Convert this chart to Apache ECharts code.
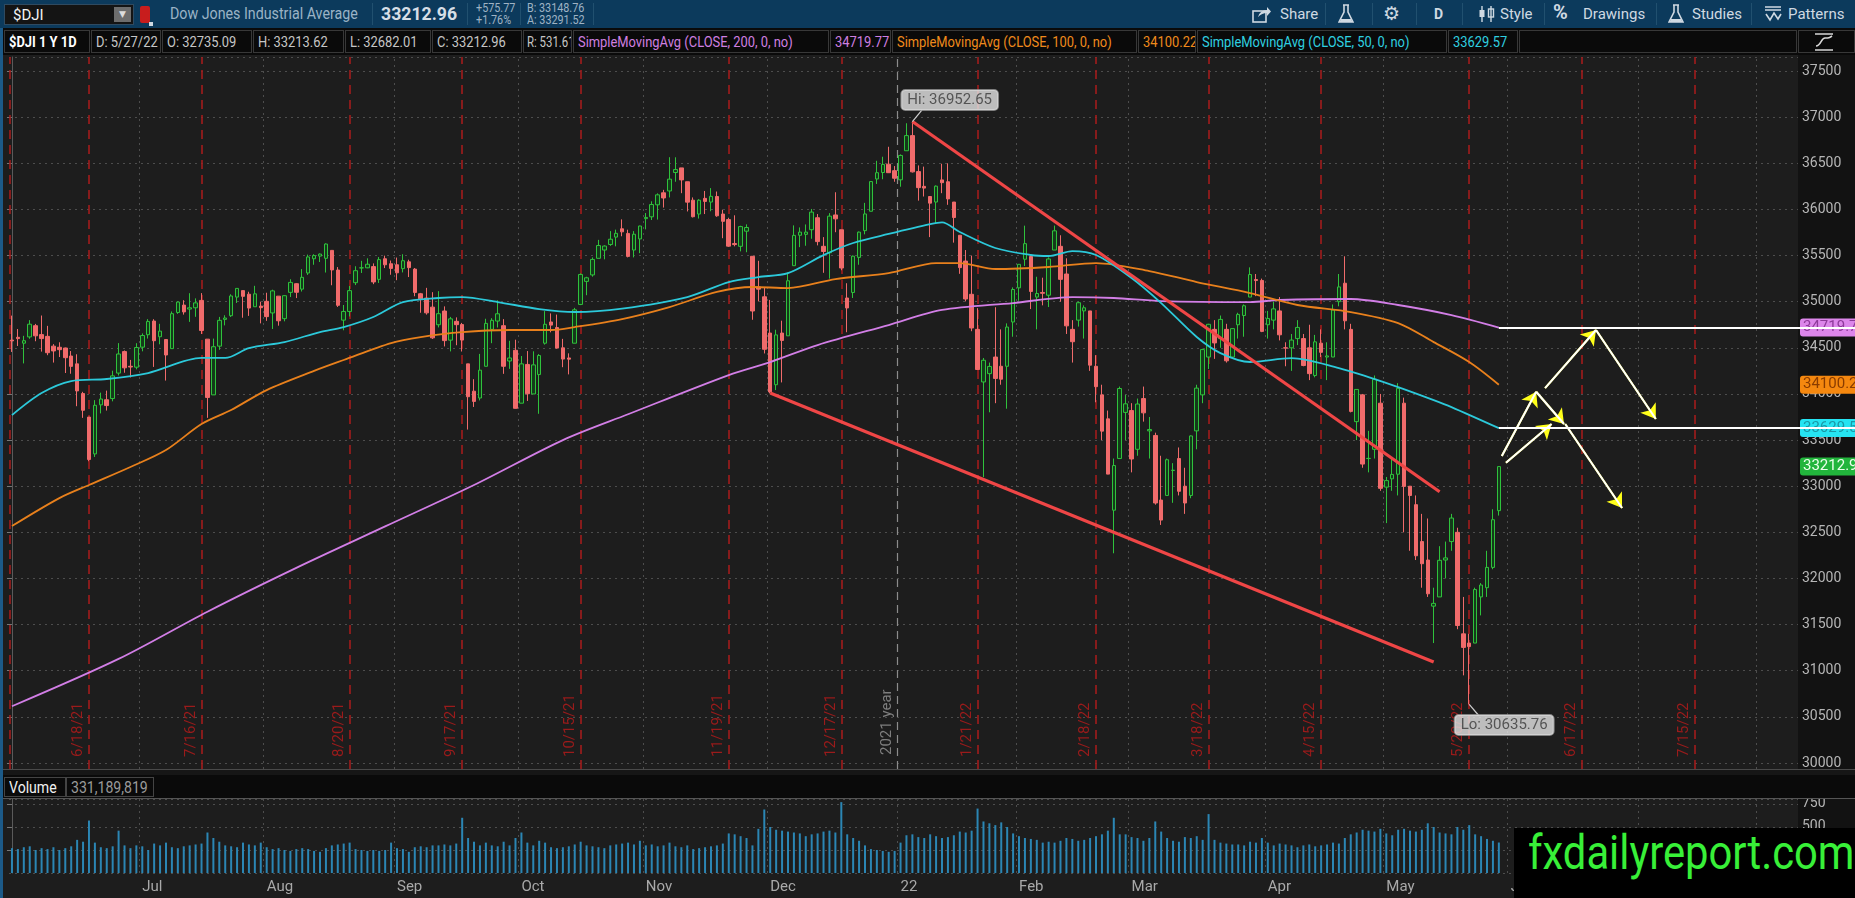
<!DOCTYPE html>
<html><head><meta charset="utf-8">
<script src="https://cdn.jsdelivr.net/npm/echarts@6/dist/echarts.min.js"></script>
<style>
html,body{margin:0;padding:0;background:#1d1d1d;width:1855px;height:898px;overflow:hidden;font-family:Roboto,"DejaVu Sans",sans-serif;}
.abs{position:absolute;}
.sx{display:inline-block;transform-origin:0 50%;white-space:nowrap;}
#top{position:absolute;left:0;top:0;width:1855px;height:28px;background:#0c3a5c;z-index:5;}
#top .t{position:absolute;white-space:nowrap;}
#top .sep{position:absolute;top:3px;width:1px;height:22px;background:#21506f;}
#top .sm{font-size:12px;color:#9fb3c4;line-height:13px;}
#top .btn{position:absolute;top:4px;font-size:15px;color:#cfd9e2;line-height:20px;white-space:nowrap;}
#row2{position:absolute;left:0;top:28px;width:1855px;height:27px;background:#0a0a0a;z-index:5;}
#row2 .c{position:absolute;top:2px;height:23px;line-height:22px;border:1px solid #383838;padding-left:4px;box-sizing:border-box;font-size:15px;color:#c6c6c6;white-space:nowrap;overflow:hidden;}
#row2 .c span{display:inline-block;transform:scaleX(.86);transform-origin:0 50%;}
#axbg{position:absolute;left:1798px;top:55px;width:57px;height:843px;background:#121212;z-index:0;}
#chart{position:absolute;left:0;top:55px;width:1855px;height:843px;z-index:1;}
#vhead{position:absolute;left:0;top:769px;width:1855px;height:30px;z-index:4;}
#vhead .band{position:absolute;left:0;top:0;width:1855px;height:6px;background:#161616;border-top:1px solid #4a4a4a;box-sizing:border-box;}
#vhead .row{position:absolute;left:0;top:6px;width:1855px;height:24px;background:#0a0a0a;border-bottom:1px solid #555;box-sizing:border-box;}
#vhead .c{position:absolute;top:2px;height:20px;line-height:19px;border:1px solid #444;padding-left:4px;box-sizing:border-box;font-size:16px;white-space:nowrap;}
#vhead .c span{display:inline-block;transform:scaleX(.88);transform-origin:0 50%;}
#lb{position:absolute;left:0;top:28px;width:3px;height:870px;background:#1c5a88;z-index:6;}
#wm{position:absolute;left:1514px;top:828px;width:341px;height:70px;background:#000;z-index:7;overflow:hidden;}
#wm span{position:absolute;left:14px;top:1px;font-family:Roboto,"DejaVu Sans",sans-serif;font-size:48px;line-height:48px;color:#38f038;white-space:nowrap;transform:scaleX(.87);transform-origin:0 50%;}
</style></head>
<body>
<div id="top">
  <div class="abs" style="left:4px;top:4px;width:130px;height:21px;background:#141414;border:1px solid #2f4a60;box-sizing:border-box;">
    <span style="position:absolute;left:8px;top:1px;font-size:15px;color:#f2f2f2;">$DJI</span>
    <div style="position:absolute;right:2px;top:2px;width:17px;height:15px;background:#6d6d6d;color:#ddd;font-size:9px;text-align:center;line-height:15px;">&#9660;</div>
  </div>
  <div class="abs" style="left:140px;top:6px;width:10px;height:17px;background:#c81d1d;border-radius:2px;"></div>
  <div class="abs" style="left:149px;top:22px;width:4px;height:4px;background:#cfd9e2;"></div>
  <div class="t" style="left:170px;top:4px;font-size:16px;color:#9bb3c6;"><span class="sx" style="transform:scaleX(.89)">Dow Jones Industrial Average</span></div>
  <div class="sep" style="left:372px"></div>
  <div class="t" style="left:381px;top:2px;font-size:19px;font-weight:bold;color:#d6dee6;"><span class="sx" style="transform:scaleX(.93)">33212.96</span></div>
  <div class="sep" style="left:467px"></div>
  <div class="t sm" style="left:476px;top:2px;"><span class="sx" style="transform:scaleX(.9)">+575.77</span></div>
  <div class="t sm" style="left:476px;top:14px;"><span class="sx" style="transform:scaleX(.9)">+1.76%</span></div>
  <div class="sep" style="left:520px"></div>
  <div class="t sm" style="left:527px;top:2px;"><span class="sx" style="transform:scaleX(.9)">B: 33148.76</span></div>
  <div class="t sm" style="left:527px;top:14px;"><span class="sx" style="transform:scaleX(.9)">A: 33291.52</span></div>
  <div class="sep" style="left:593px"></div>

  <svg class="abs" style="left:1252px;top:6px" width="20" height="17" viewBox="0 0 20 17"><rect x="1" y="5" width="13" height="11" fill="none" stroke="#cfd9e2" stroke-width="1.6"/><path d="M6 11 Q8 4 15 4 L15 1 L19 5.5 L15 10 L15 7 Q10 7 6 11Z" fill="#cfd9e2"/></svg>
  <div class="btn" style="left:1280px">Share</div>
  <div class="sep" style="left:1325px"></div>
  <svg class="abs" style="left:1338px;top:4px" width="16" height="20" viewBox="0 0 16 20"><path d="M5 1 H11 M6 1 V8 L1 18 H15 L10 8 V1" fill="none" stroke="#cfd9e2" stroke-width="1.6"/><path d="M3 15 H13 L14.5 18 H1.5Z" fill="#cfd9e2"/></svg>
  <div class="sep" style="left:1372px"></div>
  <div class="btn" style="left:1383px;font-size:19px;top:3px;font-family:'DejaVu Sans',sans-serif;">&#9881;</div>
  <div class="sep" style="left:1416px"></div>
  <div class="btn" style="left:1434px;font-weight:bold;font-size:14px;">D</div>
  <div class="sep" style="left:1462px"></div>
  <svg class="abs" style="left:1478px;top:5px" width="18" height="18" viewBox="0 0 18 18"><path d="M4 1V17 M13 1V17" stroke="#cfd9e2" stroke-width="1.4"/><rect x="1.5" y="5" width="5" height="7" fill="#cfd9e2"/><rect x="10.5" y="4" width="5" height="8" fill="none" stroke="#cfd9e2" stroke-width="1.4"/></svg>
  <div class="btn" style="left:1500px">Style</div>
  <div class="sep" style="left:1544px"></div>
  <div class="btn" style="left:1553px;font-size:20px;font-weight:bold;top:2px;">%</div>
  <div class="btn" style="left:1583px">Drawings</div>
  <div class="sep" style="left:1656px"></div>
  <svg class="abs" style="left:1668px;top:4px" width="16" height="20" viewBox="0 0 16 20"><path d="M5 1 H11 M6 1 V8 L1 18 H15 L10 8 V1" fill="none" stroke="#cfd9e2" stroke-width="1.6"/><path d="M3 15 H13 L14.5 18 H1.5Z" fill="#cfd9e2"/></svg>
  <div class="btn" style="left:1692px">Studies</div>
  <div class="sep" style="left:1751px"></div>
  <svg class="abs" style="left:1764px;top:5px" width="18" height="18" viewBox="0 0 18 18"><path d="M1 2H17 M1 5H17" stroke="#cfd9e2" stroke-width="1.6"/><path d="M2 9 L6 15 L10 8 L14 14 L17 9" fill="none" stroke="#cfd9e2" stroke-width="1.6"/></svg>
  <div class="btn" style="left:1788px">Patterns</div>
</div>

<div id="row2">
  <div class="c" style="left:4px;width:86px;color:#fff;font-weight:bold;"><span>$DJI 1 Y 1D</span></div>
  <div class="c" style="left:91px;width:70px;"><span>D: 5/27/22</span></div>
  <div class="c" style="left:162px;width:90px;"><span>O: 32735.09</span></div>
  <div class="c" style="left:253px;width:91px;"><span>H: 33213.62</span></div>
  <div class="c" style="left:345px;width:86px;"><span>L: 32682.01</span></div>
  <div class="c" style="left:432px;width:90px;"><span>C: 33212.96</span></div>
  <div class="c" style="left:523px;width:49px;padding-left:3px;"><span style="transform:scaleX(.76)">R: 531.61</span></div>
  <div class="c" style="left:573px;width:256px;color:#cf7fe0;"><span>SimpleMovingAvg (CLOSE, 200, 0, no)</span></div>
  <div class="c" style="left:830px;width:61px;color:#cf7fe0;"><span>34719.77</span></div>
  <div class="c" style="left:892px;width:245px;color:#f08a1c;"><span>SimpleMovingAvg (CLOSE, 100, 0, no)</span></div>
  <div class="c" style="left:1138px;width:58px;color:#f08a1c;"><span>34100.22</span></div>
  <div class="c" style="left:1197px;width:250px;color:#2fd0e0;"><span>SimpleMovingAvg (CLOSE, 50, 0, no)</span></div>
  <div class="c" style="left:1448px;width:70px;color:#2fd0e0;"><span>33629.57</span></div>
  <div class="c" style="left:1519px;width:278px;"></div>
  <div class="c" style="left:1798px;width:57px;border-color:#383838;">
    <svg style="position:absolute;left:14px;top:1px" width="22" height="20" viewBox="0 0 22 20"><path d="M2 2H20 M2 18H20" stroke="#d8d8d8" stroke-width="1.6"/><path d="M3 14 C8 14 8 6 12 6 S16 6 19 4" fill="none" stroke="#d8d8d8" stroke-width="1.6"/></svg>
  </div>
</div>

<div id="axbg"></div>
<div id="lb"></div>
<div id="chart"></div>
<div id="vhead">
  <div class="band"></div>
  <div class="row">
    <div class="c" style="left:4px;width:62px;color:#f0f0f0;"><span>Volume</span></div>
    <div class="c" style="left:66px;width:88px;color:#9a9a9a;"><span>331,189,819</span></div>
  </div>
</div>
<div id="wm"><span>fxdailyreport.com</span></div>

<script>
// ---------- DATA ----------
// daily candles: [day, open, close, low, high]
const jun21 = [[1,34584,34575,34455,34849],[2,34614,34600,34520,34704],[3,34550,34577,34331,34630],[4,34618,34756,34598,34800],[7,34740,34630,34571,34759],[8,34643,34600,34459,34850],[9,34624,34447,34420,34738],[10,34518,34466,34340,34540],[11,34506,34480,34400,34560],[14,34498,34393,34227,34502],[15,34411,34299,34219,34465],[16,34326,34033,33867,34430],[17,34004,33823,33741,34023],[18,33749,33290,33271,33749],[21,33350,33877,33317,33933],[22,33882,33945,33789,34014],[23,33937,33874,33820,34036],[24,33950,34196,33920,34252],[25,34226,34433,34200,34551],[28,34459,34283,34230,34471],[29,34300,34292,34179,34369],[30,34290,34503,34267,34550]];
const jul21 = [[1,34507,34633,34462,34656],[2,34642,34786,34600,34811],[6,34790,34577,34293,34810],[7,34620,34681,34538,34760],[8,34590,34422,34145,34590],[9,34491,34870,34491,34894],[12,34883,34996,34868,35002],[13,34963,34889,34860,35016],[14,34920,34934,34781,35092],[15,34934,34987,34836,35036],[16,35014,34688,34650,35093],[19,34594,33962,33741,34594],[20,33990,34512,33990,34600],[21,34518,34798,34478,34835],[22,34808,34823,34743,34853],[23,34848,35062,34834,35080],[26,35050,35144,34986,35145],[27,35120,35058,34826,35120],[28,35081,34931,34846,35108],[29,34945,35085,34945,35172],[30,34952,34935,34765,35000]];
const aug21 = [[2,35004,34838,34792,35097],[3,34878,35117,34704,35130],[4,35060,34793,34740,35060],[5,34816,35065,34787,35070],[6,35101,35209,35050,35243],[9,35195,35102,35039,35200],[10,35136,35264,35110,35353],[11,35311,35485,35290,35510],[12,35465,35500,35400,35514],[13,35494,35516,35430,35523],[16,35470,35625,35316,35632],[17,35556,35344,35178,35556],[18,35343,34961,34943,35375],[19,34800,34894,34690,34964],[20,34894,35120,34840,35170],[23,35206,35336,35180,35384],[24,35366,35367,35311,35443],[25,35367,35406,35363,35470],[26,35380,35214,35190,35415],[27,35242,35456,35203,35484],[30,35465,35400,35364,35499],[31,35411,35361,35292,35446]];
const sep21 = [[1,35400,35313,35233,35478],[2,35358,35444,35317,35514],[3,35432,35369,35267,35455],[7,35353,35100,35059,35365],[8,35086,35031,34880,35095],[9,35039,34879,34860,35150],[10,34941,34608,34596,35103],[13,34750,34870,34721,35114],[14,34899,34578,34515,34949],[15,34583,34814,34461,34835],[16,34787,34751,34528,34830],[17,34752,34584,34460,34770],[20,34326,33970,33614,34326],[21,34030,33919,33859,34160],[22,33956,34258,33930,34434],[23,34300,34765,34300,34815],[24,34700,34798,34550,34821],[27,34790,34869,34720,35015],[28,34740,34300,34218,34811],[29,34357,34390,34272,34576],[30,34473,33844,33842,34588]];
const oct21 = [[1,33900,34326,33900,34411],[4,34320,34002,33924,34465],[5,34000,34315,34000,34462],[6,34210,34417,33785,34432],[7,34550,34755,34535,34898],[8,34780,34746,34668,34873],[11,34720,34497,34491,34860],[12,34500,34378,34290,34597],[13,34390,34377,34212,34440],[14,34550,34912,34550,34933],[15,34970,35295,34963,35306],[18,35220,35259,35070,35270],[19,35290,35458,35271,35480],[20,35470,35609,35470,35670],[21,35560,35603,35459,35611],[22,35620,35677,35605,35765],[25,35700,35741,35600,35781],[26,35790,35757,35709,35892],[27,35740,35491,35480,35780],[28,35560,35731,35480,35765],[29,35680,35820,35526,35823]];
const nov21 = [[1,35900,35913,35784,35961],[2,35920,36053,35885,36088],[3,36050,36158,35890,36174],[4,36180,36124,36020,36212],[5,36200,36328,36130,36566],[8,36400,36432,36300,36565],[9,36450,36320,36176,36450],[10,36300,36079,35978,36300],[11,36100,35921,35913,36130],[12,35950,36100,35901,36111],[15,36120,36087,35950,36200],[16,36080,36142,35980,36231],[17,36140,35931,35920,36194],[18,35950,35871,35688,35997],[19,35890,35602,35594,35910],[22,35630,35619,35600,35936],[23,35600,35814,35545,35823],[24,35764,35804,35536,35838],[26,35492,34899,34804,35492],[29,35160,35136,35003,35443],[30,35053,34484,34439,35157]];
const dec21 = [[1,34660,34022,34006,35019],[2,34100,34640,34042,34696],[3,34660,34580,34125,34794],[6,34630,35227,34630,35318],[7,35390,35719,35390,35827],[8,35720,35754,35591,35805],[9,35730,35754,35606,35837],[10,35780,35971,35682,36005],[13,35910,35651,35610,35950],[14,35600,35544,35313,35700],[15,35530,35927,35250,35960],[16,35940,35898,35753,36186],[17,35780,35365,35341,35780],[20,35040,34932,34669,35200],[21,35100,35493,35040,35500],[22,35480,35754,35400,35760],[23,35770,35951,35730,36071],[27,35980,36302,35979,36304],[28,36330,36398,36276,36527],[29,36400,36488,36327,36571],[30,36490,36398,36396,36679],[31,36420,36338,36300,36470]];
const jan22 = [[3,36321,36585,36246,36596],[4,36636,36800,36636,36934],[5,36800,36407,36400,36952.65],[6,36410,36236,36095,36477],[7,36250,36231,36140,36464],[10,36140,36068,35700,36140],[11,36080,36252,35850,36260],[12,36320,36290,36176,36495],[13,36300,36114,36050,36500],[14,36080,35912,35640,36080],[18,35720,35369,35302,35720],[19,35440,35029,35003,35560],[20,35080,34715,34680,35500],[21,34700,34265,34262,34930],[24,34130,34365,33099,34390],[25,34220,34298,33801,34340],[26,34400,34168,33900,34940],[27,34300,34160,34100,34700],[28,34300,34725,33840,34765],[31,34780,35132,34620,35155]];
const feb22 = [[1,35150,35405,35010,35406],[2,35460,35629,35387,35824],[3,35490,35111,34920,35500],[4,35050,35089,34700,35270],[7,35100,35091,34960,35260],[8,35070,35463,34942,35480],[9,35560,35768,35560,35825],[10,35600,35242,35000,35720],[11,35300,34738,34650,35470],[14,34700,34566,34340,34800],[15,34800,34989,34730,35000],[16,34900,34934,34600,34960],[17,34900,34312,34250,34900],[18,34300,34079,33910,34420],[22,33990,33597,33500,34100],[23,33730,33131,33130,33820],[24,32740,33224,32273,33300],[25,33300,34059,33300,34080],[28,33800,33893,33500,33990]];
const mar22 = [[1,33820,33295,33150,33900],[2,33400,33891,33330,33950],[3,33950,33795,33700,34080],[4,33600,33615,33300,33750],[7,33550,32818,32800,33580],[8,32850,32633,32580,33330],[9,32900,33287,32900,33300],[10,33170,33174,32820,33250],[11,33300,32945,32900,33420],[14,33000,32818,32700,33200],[15,32900,33545,32870,33550],[16,33600,34063,33400,34100],[17,33990,34481,33900,34490],[18,34400,34755,34270,34760],[21,34700,34553,34380,34800],[22,34600,34808,34500,34850],[23,34700,34359,34340,34760],[24,34400,34708,34380,34710],[25,34750,34862,34600,34880],[28,34850,34956,34620,34970],[29,35050,35294,35050,35372],[30,35240,35229,35060,35300],[31,35230,34678,34670,35250]];
const apr22 = [[1,34750,34818,34600,34900],[4,34800,34922,34700,35000],[5,34900,34641,34580,35050],[6,34500,34497,34300,34560],[7,34500,34584,34250,34650],[8,34600,34721,34530,34800],[11,34600,34308,34300,34650],[12,34500,34220,34150,34750],[13,34200,34565,34180,34640],[14,34550,34451,34400,34700],[18,34400,34412,34150,34560],[19,34400,34911,34400,34970],[20,35000,35160,34950,35300],[21,35200,34793,34700,35492],[22,34700,33811,33800,34760],[25,33700,34049,33500,34050],[26,33990,33240,33200,34000],[27,33300,33302,33150,33600],[28,33400,34160,33300,34200],[29,33900,32977,32950,34000]];
const may22 = [[2,32990,33061,32600,33100],[3,33080,33128,32950,33300],[4,33130,34061,32900,34117],[5,33900,32998,32500,33960],[6,33000,32899,32300,33000],[9,32800,32246,32200,32900],[10,32400,32160,31900,32700],[11,32200,31834,31800,32650],[12,31700,31730,31300,31900],[13,31800,32197,31800,32350],[16,32200,32223,32000,32400],[17,32400,32655,32300,32700],[18,32500,31490,31450,32550],[19,31400,31253,30950,31800],[20,31300,31262,30635.76,31400],[23,31300,31880,31300,31900],[24,31800,31929,31600,31950],[25,31900,32120,31800,32300],[26,32120,32637,32100,32750],[27,32735.09,33212.96,32682.01,33213.62]];

// daily volume, millions of shares
const volJun21 = [270,260,280,290,250,270,260,280,250,270,290,360,340,570,330,280,270,290,460,300,270,300];
const volJul21 = [290,250,320,300,330,280,270,290,300,310,320,440,380,340,300,290,280,330,310,300,330];
const volAug21 = [280,260,270,250,240,260,270,260,240,230,270,300,310,320,330,260,250,240,250,240,250,330];
const volSep21 = [270,260,230,280,290,280,300,300,310,300,320,600,380,340,300,330,300,290,340,300,380];
const volOct21 = [440,330,300,350,330,280,270,280,290,310,340,300,290,280,270,300,310,320,330,310,350];
const volNov21 = [300,310,290,300,330,290,280,300,260,270,280,290,300,320,430,420,400,380,300,480,690];
const volDec21 = [500,470,460,450,440,430,400,420,430,450,460,440,770,420,380,350,300,260,250,240,230,240];
const volJan22 = [330,410,420,390,380,420,400,380,390,410,450,440,460,700,560,540,520,550,500,430];
const volFeb22 = [400,380,370,360,330,340,330,350,380,370,350,360,380,400,420,460,600,420,420];
const volMar22 = [390,380,350,380,560,450,380,350,340,390,380,400,360,640,360,330,320,310,310,300,340,330,380];
const volApr22 = [330,300,320,310,300,280,300,310,290,300,310,330,320,380,420,440,470,460,450,480];
const volMay22 = [430,410,470,480,460,450,470,540,500,440,430,420,500,470,520,420,400,370,350,331.19];

// empty future sessions shown on the right of the chart
const futMay22 = [31];
const futJun22 = [1,2,3,6,7,8,9,10,13,14,15,16,17,20,21,22,23,24,27,28,29,30];
const futJul22 = [1,5,6,7,8,11,12,13,14,15,18,19,20,21,22,25,26,27,28,29];
const futAug22 = [1,2,3,4,5,8,9];

// moving averages: [date, value]
const sma200 = [['2021-06-01',30615],['2021-06-25',31128],['2021-07-19',31640],['2021-08-09',32115],['2021-08-30',32564],['2021-09-21',33013],['2021-10-12',33500],['2021-10-27',33780],['2021-11-19',34205],['2021-12-01',34346],['2021-12-13',34530],['2021-12-30',34747],['2022-01-12',34910],['2022-01-31',34985],['2022-02-14',35050],['2022-02-24',35040],['2022-03-08',35007],['2022-03-29',34996],['2022-04-05',35018],['2022-04-22',35029],['2022-05-04',34964],['2022-05-17',34855],['2022-05-27',34719.77]];
const sma100 = [['2021-06-01',32568],['2021-06-11',32871],['2021-06-18',33013],['2021-06-29',33208],['2021-07-08',33392],['2021-07-16',33674],['2021-07-23',33826],['2021-08-02',34042],['2021-08-12',34250],['2021-08-19',34368],['2021-08-31',34552],['2021-09-08',34617],['2021-09-17',34671],['2021-09-29',34693],['2021-10-08',34693],['2021-10-14',34725],['2021-10-26',34812],['2021-11-05',34942],['2021-11-17',35105],['2021-11-26',35159],['2021-12-06',35148],['2021-12-16',35245],['2021-12-30',35310],['2022-01-11',35419],['2022-01-18',35419],['2022-01-26',35354],['2022-02-08',35376],['2022-02-18',35419],['2022-03-04',35332],['2022-03-16',35213],['2022-03-29',35094],['2022-04-08',34964],['2022-04-22',34888],['2022-05-04',34768],['2022-05-12',34562],['2022-05-20',34346],['2022-05-27',34100.22]];
const sma50 = [['2021-06-01',33771],['2021-06-08',34010],['2021-06-15',34140],['2021-06-23',34162],['2021-07-02',34227],['2021-07-16',34390],['2021-07-22',34390],['2021-07-28',34497],['2021-08-05',34563],['2021-08-13',34671],['2021-08-19',34725],['2021-08-26',34834],['2021-09-02',34996],['2021-09-13',35040],['2021-09-17',35050],['2021-09-27',34996],['2021-10-06',34920],['2021-10-14',34888],['2021-10-26',34925],['2021-11-10',35050],['2021-11-19',35213],['2021-11-29',35267],['2021-12-06',35310],['2021-12-14',35505],['2021-12-21',35636],['2021-12-30',35734],['2022-01-10',35840],['2022-01-12',35860],['2022-01-18',35755],['2022-01-26',35582],['2022-02-03',35506],['2022-02-08',35495],['2022-02-14',35549],['2022-02-18',35506],['2022-03-01',35256],['2022-03-08',34985],['2022-03-16',34617],['2022-03-22',34443],['2022-03-29',34346],['2022-04-07',34389],['2022-04-20',34281],['2022-04-27',34183],['2022-05-04',34075],['2022-05-12',33934],['2022-05-17',33858],['2022-05-27',33629.57]];

// option-expiration markers: [session date, label]
const expiries = [['2021-06-18','6/18/21'],['2021-07-16','7/16/21'],['2021-08-20','8/20/21'],['2021-09-17','9/17/21'],['2021-10-15','10/15/21'],['2021-11-19','11/19/21'],['2021-12-17','12/17/21'],['2022-01-21','1/21/22'],['2022-02-18','2/18/22'],['2022-03-18','3/18/22'],['2022-04-14','4/15/22'],['2022-05-20','5/20/22'],['2022-06-17','6/17/22'],['2022-07-15','7/15/22']];
const monthNames = ['22','Feb','Mar','Apr','May','Jun','Jul','Aug','Sep','Oct','Nov','Dec'];

// trendlines drawn on the chart: [session position, price]
const trendUpper = [[152,36952.65],[241,32940]];
const trendLower = [[128,34010],[240,31094]];
// projected path arrows: [[from],[to]]
const arrows = [
  [[251.5,33327],[257.3,34024]],
  [[252.2,33255],[259.9,33674]],
  [[258.8,34063],[267.4,34693]],
  [[267.4,34693],[277.5,33728]],
  [[257.3,34024],[262.0,33674]],
  [[262.2,33674],[271.8,32764]]
];
const levelLines = [34719.77, 33629.57];
const smaLast = {sma200:'34719.77', sma100:'34100.22', sma50:'33629.57'};
const lastClose = 33212.96;
const hiLabel = {text:'Hi: 36952.65', at:[158.3,37186], point:[152,36952.65], tail:[153.6,37075]};
const loLabel = {text:'Lo: 30635.76', at:[251.9,30411], point:[246,30635.76], tail:[247.6,30515]};

// ---------- BUILD ----------
const FONT = "Roboto, 'DejaVu Sans', sans-serif";
const pad2 = n => (n<10?'0':'')+n;
const candleMonths = [['2021-06',jun21],['2021-07',jul21],['2021-08',aug21],['2021-09',sep21],['2021-10',oct21],['2021-11',nov21],['2021-12',dec21],['2022-01',jan22],['2022-02',feb22],['2022-03',mar22],['2022-04',apr22],['2022-05',may22]];
const categories = [], ohlc = [];
candleMonths.forEach(([ym, rows]) => rows.forEach(r => { categories.push(ym+'-'+pad2(r[0])); ohlc.push([r[1],r[2],r[3],r[4]]); }));
[['2022-05',futMay22],['2022-06',futJun22],['2022-07',futJul22],['2022-08',futAug22]].forEach(([ym, days]) => days.forEach(d => categories.push(ym+'-'+pad2(d))));
const N = categories.length;
const volume = [].concat(volJun21,volJul21,volAug21,volSep21,volOct21,volNov21,volDec21,volJan22,volFeb22,volMar22,volApr22,volMay22);
const lastIdx = ohlc.length - 1;

const PMIN = 29935, PMAX = 37652, VMAX = 804;
const monthStarts = [];
for (let i = 1; i < N; i++) if (categories[i].slice(0,7) !== categories[i-1].slice(0,7)) monthStarts.push(i);
const monthSet = new Set(monthStarts);
const yearStart = monthStarts.find(i => categories[i].slice(5,7) === '01');

const vline = (x, lo, hi, extra) => Object.assign({coords:[[x,lo],[x,hi]]}, extra||{});
const tag = (y, text, bg, fg) => ({yAxis:y, lineStyle:{width:0, color:'rgba(0,0,0,0)'},
  label:{show:true, position:'end', distance:2, formatter:text, backgroundColor:bg, color:fg, fontSize:15, padding:[2,3,1,3], borderRadius:3, fontFamily:FONT}});

const chart = echarts.init(document.getElementById('chart'));
const gridLineColor = '#4d4d4d';

const option = {
  animation: false,
  backgroundColor: 'transparent',
  textStyle: {fontFamily: FONT},
  grid: [
    {left: 9, right: 57, top: 2, height: 712},
    {left: 9, right: 57, top: 744, height: 74}
  ],
  xAxis: [
    {type:'category', gridIndex:0, data:categories, boundaryGap:true, axisLine:{show:false}, axisTick:{show:false}, axisLabel:{show:false}, splitLine:{show:false}},
    {type:'value', gridIndex:0, min:-0.5, max:N-0.5, show:false},
    {type:'category', gridIndex:1, data:categories, boundaryGap:true, axisLine:{show:false}, axisTick:{show:false}, splitLine:{show:false},
      axisLabel:{interval:(i)=>monthSet.has(i), formatter:(v)=>monthNames[+v.slice(5,7)-1], align:'left', color:'#a9a9a9', fontSize:15, margin:7, fontFamily:FONT}},
    {type:'value', gridIndex:1, min:-0.5, max:N-0.5, show:false}
  ],
  yAxis: [
    {type:'value', gridIndex:0, position:'right', min:PMIN, max:PMAX, splitNumber:15,
      axisLine:{show:true, lineStyle:{color:'#5a5a5a'}}, axisTick:{show:true, inside:true, length:5, lineStyle:{color:'#777'}},
      axisLabel:{color:'#b6b6b6', fontSize:14, margin:4, showMinLabel:false, showMaxLabel:false, fontFamily:FONT, formatter:(v)=>String(v)},
      splitLine:{show:true, lineStyle:{color:gridLineColor, type:[2,4], width:1}}},
    {type:'value', gridIndex:1, position:'right', min:0, max:VMAX, interval:250,
      axisLine:{show:true, lineStyle:{color:'#5a5a5a'}}, axisTick:{show:true, inside:true, length:5, lineStyle:{color:'#777'}},
      axisLabel:{color:'#b6b6b6', fontSize:14, margin:4, showMinLabel:false, showMaxLabel:false, fontFamily:FONT, formatter:(v)=>String(v)},
      splitLine:{show:true, lineStyle:{color:gridLineColor, type:[2,4], width:1}}}
  ],
  series: [
    // month grid lines (main)
    {type:'lines', coordinateSystem:'cartesian2d', xAxisIndex:1, yAxisIndex:0, silent:true, z:1,
      lineStyle:{color:gridLineColor, type:[2,4], width:1, opacity:1},
      data: monthStarts.filter(i=>i!==yearStart).map(i=>vline(i-0.5, PMIN, PMAX))},
    // year separator
    {type:'lines', coordinateSystem:'cartesian2d', xAxisIndex:1, yAxisIndex:0, silent:true, z:1,
      lineStyle:{color:'#8c8c8c', type:[8,5], width:1.2, opacity:1},
      label:{show:true, position:'insideStartTop', formatter:'2021 year', color:'#7e7e7e', fontSize:15, distance:[14,3], fontFamily:FONT},
      data:[vline(yearStart-0.5, PMIN, PMAX)]},
    // expiration lines
    {type:'lines', coordinateSystem:'cartesian2d', xAxisIndex:1, yAxisIndex:0, silent:true, z:1,
      lineStyle:{color:'#a31c1c', type:[9,6], width:1.6, opacity:1},
      label:{show:true, position:'insideStartTop', formatter:'{b}', color:'#9b1b1b', fontSize:15, distance:[12,3], fontFamily:FONT},
      data: expiries.map(([d, lab]) => vline(categories.indexOf(d), PMIN, PMAX, {name: lab})).concat([{coords:[[-0.45,PMIN],[-0.45,PMAX]], label:{show:false}}])},
    // candles
    {type:'candlestick', xAxisIndex:0, yAxisIndex:0, z:3, data:ohlc, barWidth:4,
      itemStyle:{color:'#143a1a', color0:'#f06b6b', borderColor:'#2fc23c', borderColor0:'#f06b6b', borderWidth:1},
      markLine:{silent:true, symbol:'none', z:8, animation:false,
        data:[
          tag(levelLines[0], smaLast.sma200, '#dc86ea', '#8e3a9a'),
          tag(34100.22, smaLast.sma100, '#f5880f', '#8a3c00'),
          tag(levelLines[1], smaLast.sma50, '#26e4f2', '#1a98a6'),
          tag(lastClose, '33212.96', '#22b53c', '#eaffea')
        ]}},
    // moving averages
    {type:'line', name:'SMA200', xAxisIndex:0, yAxisIndex:0, z:4, data:sma200, showSymbol:false, smooth:0.3, lineStyle:{color:'#d27ee6', width:1.8}},
    {type:'line', name:'SMA100', xAxisIndex:0, yAxisIndex:0, z:4, data:sma100, showSymbol:false, smooth:0.3, lineStyle:{color:'#e8801c', width:1.8}},
    {type:'line', name:'SMA50', xAxisIndex:0, yAxisIndex:0, z:4, data:sma50, showSymbol:false, smooth:0.3, lineStyle:{color:'#2cc9da', width:1.8}},
    // red trendlines
    {type:'lines', coordinateSystem:'cartesian2d', xAxisIndex:1, yAxisIndex:0, silent:true, z:5,
      lineStyle:{color:'#ef4646', width:3.2, opacity:1},
      data:[{coords:trendUpper},{coords:trendLower}]},
    // yellow arrow heads
    {type:'lines', coordinateSystem:'cartesian2d', xAxisIndex:1, yAxisIndex:0, silent:true, z:6,
      symbol:['none','arrow'], symbolSize:14,
      lineStyle:{color:'#ffff1a', width:2, opacity:1},
      data: arrows.map(a=>({coords:a}))},
    // white shafts and level lines
    {type:'lines', coordinateSystem:'cartesian2d', xAxisIndex:1, yAxisIndex:0, silent:true, z:9, clip:false,
      lineStyle:{color:'#ffffff', width:2, opacity:1},
      data: arrows.map(a=>({coords:a})).concat(levelLines.map(v=>({coords:[[lastIdx,v],[N+10,v]]})))},
    // Hi / Lo pointers
    {type:'lines', coordinateSystem:'cartesian2d', xAxisIndex:1, yAxisIndex:0, silent:true, z:6,
      lineStyle:{color:'#cfcfcf', width:1.2, opacity:1},
      data:[{coords:[hiLabel.point, hiLabel.tail]},{coords:[loLabel.point, loLabel.tail]}]},
    {type:'scatter', xAxisIndex:1, yAxisIndex:0, z:7, silent:true, symbolSize:1, itemStyle:{color:'rgba(0,0,0,0)'},
      label:{show:true, position:'inside', formatter:'{b}', backgroundColor:'#e6e6e6', borderColor:'#9a9a9a', borderWidth:1, borderRadius:4, padding:[3,6,2,6], color:'#3a3a3a', fontSize:15, fontFamily:FONT},
      data:[{name:hiLabel.text, value:hiLabel.at},{name:loLabel.text, value:loLabel.at}]},
    // volume
    {type:'bar', xAxisIndex:2, yAxisIndex:1, data:volume, barWidth:2, itemStyle:{color:'#2b86b4'}, z:3},
    {type:'lines', coordinateSystem:'cartesian2d', xAxisIndex:3, yAxisIndex:1, silent:true, z:1,
      lineStyle:{color:gridLineColor, type:[2,4], width:1, opacity:1},
      data: monthStarts.map(i=>vline(i-0.5, 0, VMAX))}
  ]
};
chart.setOption(option);
</script>
</body></html>
